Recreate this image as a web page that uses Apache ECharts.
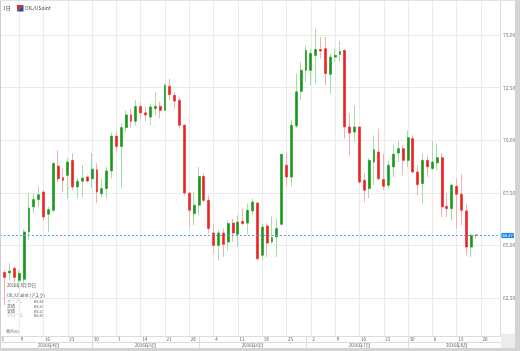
<!DOCTYPE html>
<html>
<head>
<meta charset="utf-8">
<title>OIL/USoint</title>
<script src="https://cdn.jsdelivr.net/npm/echarts@6/dist/echarts.min.js"></script>
<style>
html, body { margin: 0; padding: 0; background: #d4d4d4; }
#chart { width: 515px; height: 348px; background: #fff; }
</style>
</head>
<body>
<div id="chart"></div>
<script>
// ---- data ----
var symbolName = 'OIL/USoint';
var period = '1日';

var opens = [63.67, 63.72, 63.69, 63.91, 63.34, 63.39, 65.64, 66.83, 67.18, 67.54,
             66.48, 66.67, 68.77, 68.22, 68.33, 69.04, 67.78, 68.05, 68.25, 68.17,
             68.60, 67.46, 67.70, 68.54, 70.20, 69.70, 70.60, 71.20, 70.90, 71.60,
             71.30, 71.10, 71.50, 71.61, 71.42, 72.56, 72.13, 71.90, 70.71, 67.49,
             66.51, 66.91, 68.28, 67.14, 65.59, 65.00, 65.59, 65.16, 66.06, 65.53,
             66.14, 66.06, 66.64, 67.01, 64.53, 65.92, 65.16, 65.40, 66.00, 68.81,
             68.25, 70.68, 72.32, 73.32, 73.32, 74.03, 74.31, 74.35, 73.13, 73.95,
             74.07, 74.27, 70.63, 70.39, 70.63, 68.09, 67.70, 68.96, 69.44, 68.13,
             67.86, 68.73, 69.39, 69.60, 69.04, 70.08, 68.49, 67.94, 69.04, 68.65,
             68.92, 69.17, 66.86, 66.75, 67.81, 67.43, 66.64, 64.92, 65.50];
var closes = [64.01, 63.48, 63.78, 63.48, 63.67, 65.64, 66.78, 67.18, 67.41, 66.35,
              66.70, 68.89, 68.17, 68.09, 68.96, 67.78, 68.05, 68.20, 68.06, 68.62,
              67.54, 67.70, 68.54, 70.20, 69.70, 70.60, 71.20, 70.90, 71.60, 71.30,
              71.20, 71.58, 71.61, 71.42, 72.61, 72.17, 71.86, 70.71, 67.49, 66.67,
              66.91, 68.28, 67.14, 65.80, 65.00, 65.59, 65.05, 66.04, 65.59, 66.11,
              66.04, 66.67, 67.06, 64.37, 65.87, 65.11, 65.37, 65.80, 69.33, 68.25,
              70.71, 72.30, 73.32, 74.27, 74.12, 74.31, 74.24, 73.17, 73.95, 74.03,
              74.22, 70.63, 70.34, 70.63, 68.01, 67.62, 69.04, 69.55, 68.17, 67.81,
              68.81, 69.33, 69.60, 69.04, 70.12, 68.49, 67.89, 69.04, 68.73, 68.96,
              69.17, 66.83, 66.75, 67.86, 67.43, 66.67, 64.92, 65.48, 65.47];
var lows = [63.58, 62.15, 63.34, 63.25, 63.15, 63.20, 65.24, 66.53, 66.83, 66.19,
            65.64, 66.57, 68.01, 67.54, 67.24, 67.62, 67.24, 67.30, 67.99, 67.71,
            67.00, 67.30, 67.24, 68.19, 69.40, 67.70, 70.40, 70.60, 70.70, 71.00,
            70.90, 70.71, 71.18, 71.03, 71.38, 71.90, 71.50, 70.55, 67.38, 65.87,
            65.96, 66.43, 67.06, 65.56, 64.61, 64.29, 64.45, 64.77, 65.16, 64.92,
            65.96, 65.56, 66.43, 64.29, 64.29, 64.45, 65.09, 64.45, 65.98, 67.81,
            67.81, 70.57, 71.90, 72.77, 72.61, 72.69, 73.88, 72.61, 72.21, 73.72,
            73.72, 70.08, 69.28, 69.91, 67.90, 67.06, 67.24, 67.86, 68.09, 67.62,
            67.71, 68.25, 68.96, 68.33, 68.73, 68.42, 67.38, 66.99, 68.25, 68.57,
            68.57, 66.35, 66.35, 66.19, 65.80, 65.96, 64.53, 64.45, 65.33];
var highs = [64.15, 63.82, 64.15, 64.01, 63.82, 65.77, 67.49, 67.48, 67.81, 67.62,
             66.83, 68.96, 69.52, 68.66, 69.14, 69.38, 68.19, 68.81, 68.33, 69.38,
             68.90, 68.19, 68.72, 70.37, 70.45, 70.80, 71.40, 71.50, 71.90, 71.80,
             71.60, 71.71, 72.29, 71.82, 72.70, 72.93, 72.29, 72.02, 70.75, 67.50,
             67.54, 68.73, 68.42, 67.38, 66.04, 65.72, 65.80, 66.19, 66.27, 66.43,
             66.75, 66.99, 67.22, 67.06, 66.04, 66.04, 66.38, 66.27, 69.36, 69.44,
             70.95, 73.17, 73.72, 74.51, 74.35, 75.30, 74.90, 74.90, 74.12, 74.35,
             74.71, 74.31, 71.26, 71.66, 70.65, 68.44, 69.14, 70.23, 70.55, 69.36,
             69.04, 69.76, 69.96, 69.76, 70.47, 70.23, 68.81, 69.36, 69.28, 69.96,
             69.84, 69.39, 67.46, 67.94, 68.17, 68.38, 66.99, 65.56, 65.53];

// x-axis tick labels (day of month at each weekly gridline) and month row
var weekTicks = ['3', '9', '16', '23', '30', '7', '14', '21', '28', '4', '11',
                 '18', '25', '2', '9', '16', '23', '30', '6', '13', '20'];
var months = ['2016年4月', '2016年5月', '2016年6月', '2016年7月', '2016年8月'];
var infoLabels = ['オープン', '高値', '安値', 'クローズ'];

(function(){

var chart = echarts.init(document.getElementById('chart'));

var FONT = '"Noto Sans CJK JP", "Noto Sans", sans-serif';
var UP = '#17981a', DOWN = '#ec2222';
var UP_WICK = '#a3dea3', DOWN_WICK = '#f7b0b0';

// trading days, first candle Tue 2016-04-05, a few empty days at the right
var dates = [], days = [], mons = [];
var d = new Date(2016, 3, 5);
while (dates.length < 104) {
    var wd = d.getDay();
    if (wd != 0 && wd != 6) {
        var m = d.getMonth() + 1, dd = d.getDate();
        dates.push(d.getFullYear() + '-' + (m < 10 ? '0' : '') + m + '-' + (dd < 10 ? '0' : '') + dd);
        days.push(wd);
        mons.push(m);
    }
    d.setDate(d.getDate() + 1);
}

// weekly gridlines on mondays (+ first label at the left edge)
var tickIdx = [0];
for (var i = 1; i < dates.length; i++) if (days[i] == 1) tickIdx.push(i);

// month boundaries and month label positions
var monthStart = [0];
for (var i = 1; i < dates.length; i++) if (mons[i] != mons[i - 1]) monthStart.push(i);
var monthMid = [];
for (var i = 0; i < monthStart.length; i++) {
    var end = i + 1 < monthStart.length ? monthStart[i + 1] : dates.length;
    monthMid.push(Math.round((monthStart[i] + end) / 2));
}

var wicks = [], bodies = [];
for (var i = 0; i < opens.length; i++) {
    wicks.push([opens[i], closes[i], lows[i], highs[i]]);
    bodies.push([opens[i], closes[i], Math.min(opens[i], closes[i]), Math.max(opens[i], closes[i])]);
}
var last = opens.length - 1;

// info box (last candle)
var info = [
    {type: 'text', x: 7, y: 285.5, style: {text: '2016年8月19日', fontSize: 4.2, fill: '#444', fontFamily: FONT, verticalAlign: 'middle'}},
    {type: 'text', x: 7, y: 295.5, style: {text: symbolName + ' (アスク)', fontSize: 4.2, fill: '#444', fontFamily: FONT, verticalAlign: 'middle'}}
];
var infoVals = [opens[last], highs[last], lows[last], closes[last]];
var infoY = [301.5, 306.2, 311, 315.8];
for (var i = 0; i < 4; i++) {
    info.push({type: 'text', x: 7, y: infoY[i], style: {text: infoLabels[i], fontSize: 4, fill: (i == 1 || i == 2) ? '#555' : '#aaa', fontFamily: FONT, verticalAlign: 'middle'}});
    info.push({type: 'text', x: 34, y: infoY[i], style: {text: infoVals[i].toFixed(2), fontSize: 4, fill: '#555', fontFamily: FONT, verticalAlign: 'middle'}});
}

option = {
    animation: false,
    textStyle: {fontFamily: FONT},
    grid: {
        left: -0.2,
        right: 14.6,
        top: -17.6,
        bottom: -2.6,
        outerBoundsMode: 'none'
    },
    xAxis: [
        {
            // gridlines of the plot
            type: 'category',
            data: dates,
            boundaryGap: false,
            position: 'bottom',
            offset: -14.6,
            axisLine: {show: false, onZero: false},
            axisTick: {show: false},
            axisLabel: {show: false},
            splitLine: {
                show: true,
                interval: function (idx) { return idx > 0 && days[idx] == 1; },
                lineStyle: {color: '#ebebeb', width: 1}
            }
        },
        {
            // day row
            type: 'category',
            data: dates,
            boundaryGap: false,
            position: 'bottom',
            offset: -14.6,
            z: 20,
            axisLine: {show: true, onZero: false, lineStyle: {color: '#dcdcdc'}},
            axisTick: {
                show: true,
                interval: function (idx) { return idx > 0 && monthStart.indexOf(idx) > -1; },
                length: 6,
                lineStyle: {color: '#dcdcdc'}
            },
            axisLabel: {
                interval: function (idx) { return tickIdx.indexOf(idx) > -1; },
                formatter: function (val, idx) { return weekTicks[tickIdx.indexOf(idx)]; },
                fontSize: 4.5,
                color: '#555',
                align: 'left',
                margin: 1.5,
                padding: [0, 0, 0, 1.5]
            },
            splitLine: {show: false}
        },
        {
            // month row
            type: 'category',
            data: dates,
            boundaryGap: false,
            position: 'bottom',
            offset: -8.6,
            z: 20,
            axisLine: {show: true, onZero: false, lineStyle: {color: '#dcdcdc'}},
            axisTick: {
                show: true,
                interval: function (idx) { return idx > 0 && monthStart.indexOf(idx) > -1; },
                length: 6,
                lineStyle: {color: '#dcdcdc'}
            },
            axisLabel: {
                interval: function (idx) { return monthMid.indexOf(idx) > -1; },
                formatter: function (val, idx) { return months[monthMid.indexOf(idx)]; },
                fontSize: 4.5,
                color: '#555',
                margin: 1.2
            },
            splitLine: {show: false}
        }
    ],
    yAxis: {
        type: 'value',
        position: 'right',
        min: 60,
        max: 77.5,
        interval: 2.5,
        axisLine: {show: true, lineStyle: {color: '#dcdcdc'}},
        axisTick: {show: false},
        axisLabel: {
            formatter: function (v) { return v.toFixed(2); },
            fontSize: 5,
            color: '#777',
            margin: 2.5
        },
        splitLine: {lineStyle: {color: '#ebebeb', width: 1}}
    },
    graphic: [
        {type: 'rect', silent: true, z: 10, shape: {x: 0, y: 336.5, width: 501, height: 12}, style: {fill: '#fff'}},
        {type: 'rect', silent: true, z: 10, shape: {x: 501, y: 334, width: 14, height: 14}, style: {fill: '#ececec'}},
        {type: 'rect', silent: true, z: 30, shape: {x: 0, y: 0, width: 1, height: 348}, style: {fill: '#cfcfcf'}},
        {type: 'rect', silent: true, z: 30, shape: {x: 0, y: 0, width: 515, height: 1}, style: {fill: '#e2e2e2'}},
        {type: 'text', z: 30, x: 3, y: 8, style: {text: period, fontSize: 5, fill: '#444', fontFamily: FONT, verticalAlign: 'middle'}},
        {type: 'polygon', z: 30, shape: {points: [[17, 5], [23.5, 5], [17, 11.5]]}, style: {fill: '#d9302c'}},
        {type: 'polygon', z: 30, shape: {points: [[23.5, 5], [23.5, 11.5], [17, 11.5]]}, style: {fill: '#2a4a9a'}},
        {type: 'text', z: 30, x: 25, y: 8, style: {text: symbolName, fontSize: 5, fill: '#444', fontFamily: FONT, verticalAlign: 'middle'}},
        {type: 'text', z: 30, x: 6, y: 331, style: {text: '表示(0)', fontSize: 4, fill: '#666', fontFamily: FONT, verticalAlign: 'middle'}},
        {type: 'group', z: 30, children: info}
    ],
    series: [
        {
            name: 'wick',
            type: 'candlestick',
            xAxisIndex: 0,
            barWidth: 1,
            silent: true,
            itemStyle: {color: UP_WICK, color0: DOWN_WICK, borderColor: UP_WICK, borderColor0: DOWN_WICK, borderWidth: 1},
            data: wicks
        },
        {
            name: symbolName,
            type: 'candlestick',
            xAxisIndex: 0,
            barWidth: 2.4,
            itemStyle: {color: UP, color0: DOWN, borderColor: UP, borderColor0: DOWN, borderWidth: 0.6},
            data: bodies,
            markLine: {
                silent: true,
                symbol: 'none',
                lineStyle: {color: '#3fa2f2', type: [2, 2], width: 1.2, opacity: 1},
                label: {
                    position: 'end',
                    distance: 1,
                    formatter: function (p) { return p.value.toFixed(2); },
                    backgroundColor: '#1d87e0',
                    color: '#fff',
                    fontSize: 4.2,
                    padding: [0.5, 1]
                },
                data: [{yAxis: closes[last]}]
            }
        }
    ]
};

chart.setOption(option);
})();
</script>
</body>
</html>
